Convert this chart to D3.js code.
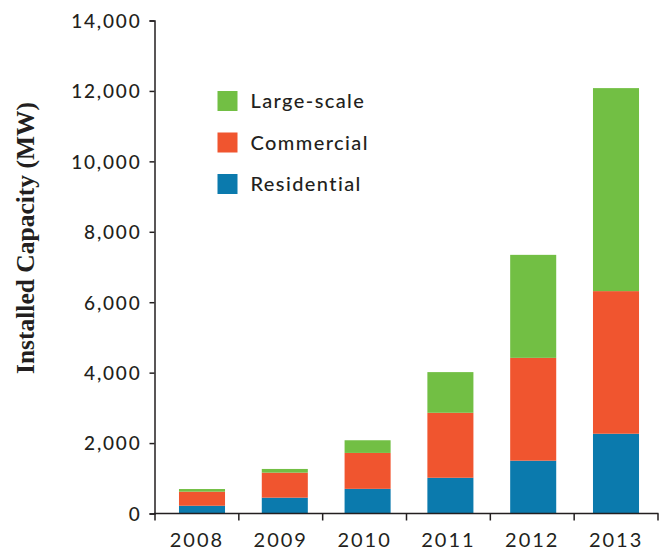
<!DOCTYPE html>
<html>
<head>
<meta charset="utf-8">
<script src="https://cdn.jsdelivr.net/npm/d3@7"></script>
<style>
body { margin: 0; background: #fff; }
.tick text { font-family: Lato, "Open Sans", sans-serif; font-size: 19px; fill: #231f20; letter-spacing: 1.8px; }
</style>
</head>
<body>
<div id="chart"></div>
<script>

let years = ["2008", "2009", "2010", "2011", "2012", "2013"];
let residential = [220, 450, 700, 1015, 1500, 2265];
let commercial = [400, 710, 1020, 1845, 2920, 4050];
let largeScale = [75, 105, 360, 1155, 2925, 5765];
let seriesNames = ["Residential", "Commercial", "Large-scale"];
let seriesColors = ["#0b7aad", "#f0552f", "#72bf44"];
let yTicks = [0, 2000, 4000, 6000, 8000, 10000, 12000, 14000];

let svgWidth = 661;
let svgHeight = 550;

let svg = d3.select("#chart")
    .append("svg")
    .attr("width", svgWidth)
    .attr("height", svgHeight);

let table = years.map((y, i) => ({
    year: y,
    "Residential": residential[i],
    "Commercial": commercial[i],
    "Large-scale": largeScale[i]
}));

let stacked = d3.stack().keys(seriesNames)(table);

let yScale = d3.scaleLinear()
    .domain([0, 14000])
    .range([513.5, 20.5]);

// axis ticks sit on band edges, bars use a slightly shifted band
let xAxisScale = d3.scaleBand()
    .domain(years)
    .range([155, 658]);

let xBarScale = d3.scaleBand()
    .domain(years)
    .range([160.6, 657.4])
    .paddingInner(0.444)
    .paddingOuter(0.222);

let color = d3.scaleOrdinal()
    .domain(seriesNames)
    .range(seriesColors);

// bars
svg.append("g")
    .selectAll("g")
    .data(stacked)
    .enter()
    .append("g")
    .attr("fill", d => color(d.key))
    .selectAll("rect")
    .data(d => d)
    .enter()
    .append("rect")
    .attr("x", d => xBarScale(d.data.year))
    .attr("width", xBarScale.bandwidth())
    .attr("y", d => yScale(d[1]))
    .attr("height", d => yScale(d[0]) - yScale(d[1]));

// y axis
let leftAxis = d3.axisLeft(yScale)
    .tickValues(yTicks)
    .tickFormat(d3.format(","))
    .tickSize(5)
    .tickPadding(8);

let yAxis = svg.append("g")
    .attr("transform", "translate(154.5, 0)")
    .call(leftAxis);

yAxis.selectAll("text").attr("dy", "0.36em").style("font-weight", 500);

// x axis
let bottomAxis = d3.axisBottom(xAxisScale)
    .tickSize(0)
    .tickPadding(19);

let xAxis = svg.append("g")
    .attr("transform", "translate(0, 513.5)")
    .call(bottomAxis);

xAxis.selectAll("text").style("font-size", "20px").style("letter-spacing", "2px");

xAxis.select(".domain").attr("d", "M154,0H658.5");

xAxis.selectAll(".edge")
    .data(years.concat(["end"]))
    .enter()
    .append("line")
    .attr("class", "edge")
    .attr("x1", (d, i) => i < years.length ? xAxisScale(d) : xAxisScale(years[years.length - 1]) + xAxisScale.bandwidth())
    .attr("x2", (d, i) => i < years.length ? xAxisScale(d) : xAxisScale(years[years.length - 1]) + xAxisScale.bandwidth())
    .attr("y1", 0)
    .attr("y2", 7)
    .attr("stroke", "#231f20")
    .attr("stroke-width", 1.5);

svg.selectAll(".domain, .tick line")
    .attr("stroke", "#231f20")
    .attr("stroke-width", 1.5);

// y title
svg.append("text")
    .attr("transform", "translate(34, 238) rotate(-90)")
    .attr("text-anchor", "middle")
    .attr("font-family", "'Liberation Serif', 'DejaVu Serif', serif")
    .attr("font-weight", "bold")
    .attr("font-size", "25.5px")
    .attr("fill", "#231f20")
    .text("Installed Capacity (MW)");

// legend
let legendItems = seriesNames.slice().reverse();

let legend = svg.append("g")
    .selectAll("g")
    .data(legendItems)
    .enter()
    .append("g")
    .attr("transform", (d, i) => `translate(217.5, ${91 + i * 41.5})`);

legend.append("rect")
    .attr("width", 20)
    .attr("height", 20)
    .attr("fill", d => color(d));

legend.append("text")
    .attr("x", 33)
    .attr("y", 10)
    .attr("dy", "0.36em")
    .attr("font-family", "Lato, 'Open Sans', sans-serif")
    .attr("font-size", "20px")
    .attr("font-weight", 500)
    .attr("letter-spacing", "1.4px")
    .attr("fill", "#231f20")
    .text(d => d);

</script>
</body>
</html>
